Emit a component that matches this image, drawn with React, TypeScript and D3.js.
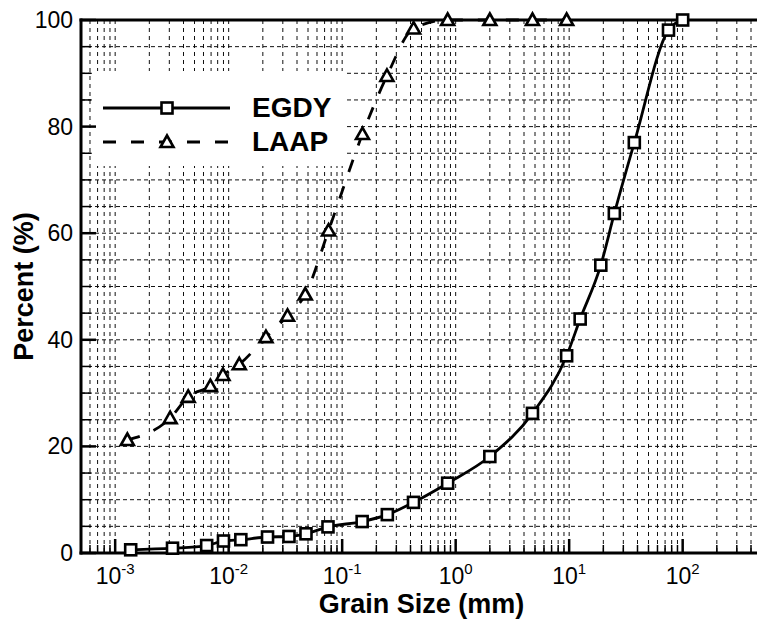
import React from 'react';
import * as d3 from 'd3';

// grain size (mm) and percent passing
const egdySize = [0.00137, 0.0032, 0.0064, 0.009, 0.0128, 0.022, 0.034, 0.048, 0.075, 0.15, 0.25, 0.425, 0.85, 2.0, 4.75, 9.5, 12.5, 19, 25, 37.5, 75, 100];
const egdyPassing = [0.6, 0.9, 1.4, 2.25, 2.5, 3.0, 3.1, 3.6, 4.9, 5.9, 7.2, 9.5, 13.1, 18.1, 26.2, 37.0, 43.9, 54.0, 63.7, 77.0, 98.1, 100];

const laapSize = [0.00128, 0.00305, 0.0044, 0.0069, 0.0089, 0.0124, 0.0213, 0.033, 0.0473, 0.0759, 0.151, 0.248, 0.426, 0.85, 2.0, 4.75, 9.5];
const laapPassing = [21.2, 25.3, 29.3, 31.3, 33.4, 35.4, 40.5, 44.5, 48.5, 60.5, 78.6, 89.5, 98.4, 100, 100, 100, 100];

const xDecades = [-3, -2, -1, 0, 1, 2];
const yTicks = [0, 20, 40, 60, 80, 100];

const legendNames = ['EGDY', 'LAAP'];

const W = 757;
const H = 620;
const left = 81;
const right = 762;
const top = 20;
const bottom = 553;
const font = '"Liberation Sans", Arial, Helvetica, sans-serif';

const App = () => {
    const x = d3.scaleLog().domain([5e-4, 500]).range([left, right]);
    const y = d3.scaleLinear().domain([0, 100]).range([bottom, top]);

    // minor positions 2..9 in every decade, inside the domain
    const minors: number[] = [];
    for (let e = -4; e <= 2; e++) {
        for (let m = 2; m <= 9; m++) {
            const v = m * Math.pow(10, e);
            if (v > 5e-4 && v < 500) minors.push(v);
        }
    }
    const majors = xDecades.map((e) => Math.pow(10, e));
    const yGrid = d3.range(5, 100, 5);

    const line = d3
        .line<[number, number]>()
        .x((d) => x(d[0]))
        .y((d) => y(d[1]))
        .curve(d3.curveMonotoneX);

    const egdy = egdySize.map((s, i) => [s, egdyPassing[i]] as [number, number]);
    const laap = laapSize.map((s, i) => [s, laapPassing[i]] as [number, number]);

    const square = (cx: number, cy: number, k: string) => (
        <rect key={k} x={cx - 5.5} y={cy - 5.5} width={11} height={11} fill="white" stroke="black" strokeWidth={2.6} />
    );
    const tri = (cx: number, cy: number, k: string) => (
        <path key={k} d={`M${cx},${cy - 6.5}L${cx + 6.5},${cy + 5}L${cx - 6.5},${cy + 5}Z`} fill="white" stroke="black" strokeWidth={2.6} strokeLinejoin="miter" />
    );

    return (
        <svg width={W} height={H} style={{ position: 'absolute', left: 0, top: 0, background: 'white' }} fontFamily={font}>
            {/* grid */}
            <g stroke="#111" strokeWidth={1}>
                {[...minors, ...majors].map((v, i) => (
                    <line key={'vg' + i} x1={x(v)} x2={x(v)} y1={top} y2={bottom} strokeDasharray="4,4" />
                ))}
                {yGrid.map((v) => (
                    <line key={'hg' + v} x1={left} x2={right} y1={y(v)} y2={y(v)} strokeDasharray="4,3" />
                ))}
            </g>

            {/* legend background */}
            <rect x={92} y={71} width={253} height={95} fill="white" />

            {/* axis ticks */}
            <g stroke="black">
                {minors.map((v, i) => (
                    <line key={'mt' + i} x1={x(v)} x2={x(v)} y1={bottom} y2={bottom - 8} strokeWidth={1.5} />
                ))}
                {majors.map((v, i) => (
                    <line key={'Mt' + i} x1={x(v)} x2={x(v)} y1={bottom} y2={bottom - 14} strokeWidth={2.5} />
                ))}
                {yGrid.filter((v) => v % 20 !== 0).map((v) => (
                    <line key={'ymt' + v} x1={left} x2={left + 10} y1={y(v)} y2={y(v)} strokeWidth={1.5} />
                ))}
                {yTicks.map((v) => (
                    <line key={'yMt' + v} x1={left} x2={left + 15} y1={y(v)} y2={y(v)} strokeWidth={2.5} />
                ))}
            </g>

            {/* axis lines */}
            <g stroke="black" strokeWidth={3} fill="none">
                <line x1={left} x2={left} y1={top - 1.5} y2={bottom + 1.5} />
                <line x1={left - 1.5} x2={right} y1={bottom} y2={bottom} />
                <line x1={left - 1.5} x2={right} y1={top} y2={top} />
            </g>

            {/* tick labels */}
            <g fontSize={23} fill="black">
                {yTicks.map((v) => (
                    <text key={'yl' + v} x={73} y={y(v)} textAnchor="end" dominantBaseline="central">
                        {v}
                    </text>
                ))}
                {xDecades.map((e) => (
                    <text key={'xl' + e} x={x(Math.pow(10, e))} y={584} textAnchor="middle">
                        10
                        <tspan fontSize={15} dy={-10}>
                            {e}
                        </tspan>
                    </text>
                ))}
            </g>

            {/* axis titles */}
            <text x={(left + right) / 2} y={613} textAnchor="middle" fontSize={27} fontWeight="bold">
                Grain Size (mm)
            </text>
            <text transform={`translate(33,${(top + bottom) / 2}) rotate(-90)`} textAnchor="middle" fontSize={27} fontWeight="bold">
                Percent (%)
            </text>

            {/* series */}
            <path d={line(egdy) || ''} fill="none" stroke="black" strokeWidth={2.8} />
            <path d={line(laap) || ''} fill="none" stroke="black" strokeWidth={2.8} strokeDasharray="13,15" />
            {egdy.map((d, i) => square(x(d[0]), y(d[1]), 'es' + i))}
            {laap.map((d, i) => tri(x(d[0]), y(d[1]), 'lt' + i))}

            {/* legend */}
            <g>
                <line x1={103} x2={230} y1={108} y2={108} stroke="black" strokeWidth={2.8} />
                {square(167, 108, 'leg0')}
                <line x1={103} x2={230} y1={142} y2={142} stroke="black" strokeWidth={2.8} strokeDasharray="13,15" />
                {tri(167, 142, 'leg1')}
                {legendNames.map((n, i) => (
                    <text key={n} x={252} y={117 + i * 34} fontSize={28} fontWeight="bold">
                        {n}
                    </text>
                ))}
            </g>
        </svg>
    );
};

export default App;
